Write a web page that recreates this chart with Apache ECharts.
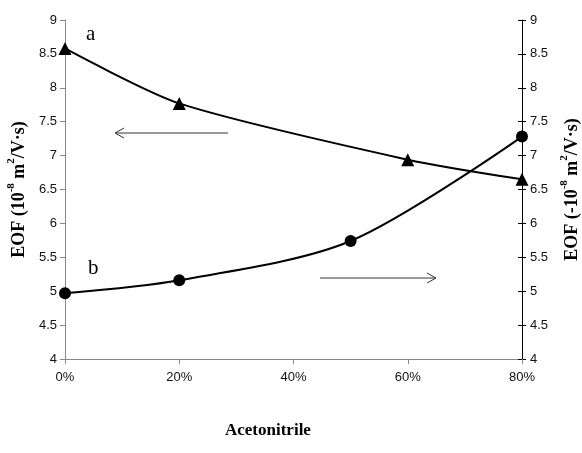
<!DOCTYPE html>
<html><head><meta charset="utf-8">
<script src="https://cdn.jsdelivr.net/npm/echarts@6/dist/echarts.min.js"></script>
<style>html,body{margin:0;padding:0;background:#fff}#c{width:582px;height:453px}</style>
</head><body><div id="c"></div>
<script>
// Data
var acnA = [0, 20, 60, 80];
var eofA = [8.58, 7.77, 6.94, 6.65];
var acnB = [0, 20, 50, 80];
var eofB = [4.97, 5.16, 5.74, 7.28];
var xTicks = [0, 20, 40, 60, 80];
var yTicks = [4, 4.5, 5, 5.5, 6, 6.5, 7, 7.5, 8, 8.5, 9];

var chart = echarts.init(document.getElementById('c'));
function pairs(xs, ys){ return xs.map(function(x,i){return [x, ys[i]];}); }
var nameRich = {
  b: {fontFamily: 'Liberation Serif', fontWeight: 'bold', fontSize: 18, color: '#000', lineHeight: 22, verticalAlign: 'bottom'},
  s: {fontFamily: 'Liberation Serif', fontWeight: 'bold', fontSize: 11, color: '#000', lineHeight: 22, verticalAlign: 'top'}
};
var labelStyle = {fontFamily: 'Liberation Sans', fontSize: 13, color: '#111'};
chart.setOption({
  animation: false,
  grid: {left: 65, right: 60, top: 20, bottom: 94, containLabel: false, outerBoundsMode: 'none'},
  xAxis: {
    type: 'value', min: 0, max: 80, interval: 20,
    axisLine: {lineStyle: {color: '#888', width: 1}},
    axisTick: {show: true, length: 5, lineStyle: {color: '#888'}},
    axisLabel: Object.assign({formatter: '{value}%', margin: 12}, labelStyle),
    splitLine: {show: false}
  },
  yAxis: [{
    type: 'value', min: 4, max: 9, interval: 0.5, position: 'left',
    axisLine: {show: true, lineStyle: {color: '#888', width: 1}},
    axisTick: {show: true, length: 5, lineStyle: {color: '#888'}},
    axisLabel: Object.assign({margin: 8}, labelStyle),
    splitLine: {show: false},
    name: '{b|EOF (10}{s|-8}{b| m}{s|2}{b|/V·s)}',
    nameLocation: 'middle', nameRotate: 90, nameGap: 33,
    nameTextStyle: {rich: nameRich}
  }, {
    type: 'value', min: 4, max: 9, interval: 0.5, position: 'right',
    axisLine: {show: true, lineStyle: {color: '#000', width: 1}},
    axisTick: {show: true, length: 4, inside: false, lineStyle: {color: '#000'}},
    axisLabel: Object.assign({margin: 8}, labelStyle),
    splitLine: {show: false},
    name: '{b|EOF (-10}{s|-8}{b| m}{s|2}{b|/V·s)}',
    nameLocation: 'middle', nameRotate: 90, nameGap: 32,
    nameTextStyle: {rich: nameRich}
  }, {
    type: 'value', min: 4, max: 9, interval: 0.5, position: 'right',
    axisLine: {show: false},
    axisTick: {show: true, length: 4, inside: true, lineStyle: {color: '#000'}},
    axisLabel: {show: false},
    splitLine: {show: false}
  }],
  series: [{
    type: 'line', yAxisIndex: 0, data: pairs(acnA, eofA), smooth: 0.25,
    symbol: 'triangle', symbolSize: 13, showAllSymbol: true,
    lineStyle: {color: '#000', width: 2}, itemStyle: {color: '#000'}
  }, {
    type: 'line', yAxisIndex: 1, data: pairs(acnB, eofB), smooth: 0.3,
    symbol: 'circle', symbolSize: 12,
    lineStyle: {color: '#000', width: 2}, itemStyle: {color: '#000'}
  }],
  graphic: [
    {type: 'text', left: 86, top: 24, style: {text: 'a', fontFamily: 'Liberation Serif', fontSize: 21, fill: '#000'}},
    {type: 'text', left: 88, top: 258, style: {text: 'b', fontFamily: 'Liberation Serif', fontSize: 21, fill: '#000'}},
    {type: 'line', shape: {x1: 115, y1: 133, x2: 228, y2: 133}, style: {stroke: '#333', lineWidth: 1}},
    {type: 'polyline', shape: {points: [[124, 128], [115, 133], [124, 138]]}, style: {stroke: '#333', lineWidth: 1, fill: null}},
    {type: 'line', shape: {x1: 320, y1: 278, x2: 436, y2: 278}, style: {stroke: '#333', lineWidth: 1}},
    {type: 'polyline', shape: {points: [[427, 273], [436, 278], [427, 283]]}, style: {stroke: '#333', lineWidth: 1, fill: null}},
    {type: 'text', left: 225, top: 422, style: {text: 'Acetonitrile', fontFamily: 'Liberation Serif', fontWeight: 'bold', fontSize: 17, fill: '#000'}}
  ]
});
</script></body></html>
